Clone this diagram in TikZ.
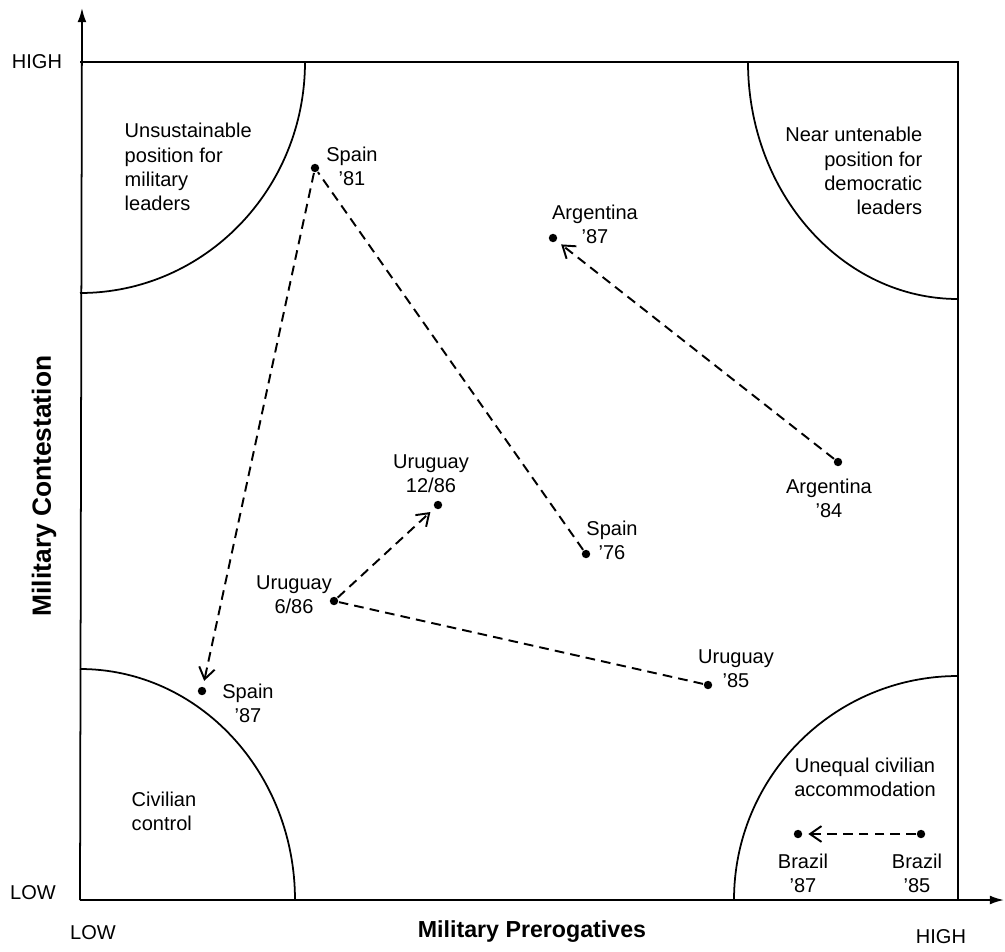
\documentclass[tikz,border=0pt]{standalone}
\usepackage{fontspec}
\setmainfont{Liberation Sans}
\usetikzlibrary{arrows.meta}
\begin{document}
\begin{tikzpicture}[x=0.02cm,y=-0.02cm,line width=1pt,pt/.style={shape=circle,fill=black,inner sep=0pt,minimum size=4.8pt},lab/.style={align=center,font=\fontsize{11.4}{13.8}\selectfont},zone/.style={lab,align=left},trend/.style={line width=1.1pt,dash pattern=on 5.5pt off 3.5pt},move/.style={trend,shorten >=3pt,-{Straight Barb[length=6.5pt,width=9pt,line width=1.1pt]}},axis/.style={-{Latex[length=8pt,width=5pt]}},axlab/.style={font=\fontsize{13.2}{15}\selectfont\bfseries},axlabY/.style={font=\fontsize{15}{17}\selectfont\bfseries,rotate=90}]
\def\xl{80};
\def\xr{958};
\def\yt{62};
\def\yb{900};

\useasboundingbox (0,0) rectangle (1005,951);

\coordinate (O) at (\xl,\yb);
\coordinate (ytip) at (82,8);
\coordinate (xtip) at (1004,\yb);
\draw[axis] (O) -- (ytip);
\draw[axis] (O) -- (xtip);
\draw (\xl,\yt) -- (\xr,\yt) -- (\xr,\yb);

\draw (305,\yt) arc[start angle=0,end angle=90,x radius=225,y radius=231];
\draw (748,\yt) arc[start angle=180,end angle=90,x radius=210,y radius=237];
\draw (\xl,669) arc[start angle=270,end angle=360,x radius=215,y radius=231];
\draw (734,\yb) arc[start angle=180,end angle=270,x radius=224,y radius=224];

\node[zone,anchor=west] (zUns) at (118,167) {Unsustainable\\position for\\military\\leaders};
\node[lab,align=right,anchor=east] (zNear) at (929,171) {Near untenable\\position for\\democratic\\leaders};
\node[zone,anchor=west] (zCiv) at (125,811) {Civilian\\control};
\node[lab] (zUneq) at (865,777) {Unequal civilian\\accommodation};

\node[lab] (hiY) at (37,62) {HIGH};
\node[lab] (loY) at (33,893) {LOW};
\node[lab] (loX) at (93,933) {LOW};
\node[lab] (hiX) at (941,937) {HIGH};
\node[axlab] (xlab) at (532,932) {Military Prerogatives};
\node[axlabY] (ylab) at (44,486) {Military Contestation};

\node[pt] (S76) at (586,554) {};
\node[pt] (S81) at (315,168) {};
\node[pt] (S87) at (202,691) {};
\node[lab] (lS76) at (612,540) {Spain\\'76};
\node[lab] (lS81) at (352,166) {Spain\\'81};
\node[lab] (lS87) at (248,703) {Spain\\'87};
\draw[trend] (S76) -- (S81);
\draw[move] (S81) -- (S87);

\node[pt] (U85) at (708,685) {};
\node[pt] (U686) at (334,601) {};
\node[pt] (U1286) at (438,505) {};
\node[lab] (lU85) at (736,669) {Uruguay\\'85};
\node[lab] (lU686) at (294,595) {Uruguay\\6/86};
\node[lab] (lU1286) at (431,474) {Uruguay\\12/86};
\draw[trend] (U85) -- (U686);
\draw[move] (U686) -- (U1286);

\node[pt] (A84) at (838,462) {};
\node[pt] (A87) at (553,238) {};
\node[lab] (lA84) at (829,498) {Argentina\\'84};
\node[lab] (lA87) at (595,224) {Argentina\\'87};
\draw[move] (A84) -- (A87);

\node[pt] (B85) at (921,834) {};
\node[pt] (B87) at (798,834) {};
\node[lab] (lB85) at (917,873) {Brazil\\'85};
\node[lab] (lB87) at (803,873) {Brazil\\'87};
\draw[move] (B85) -- (B87);
\end{tikzpicture}
\end{document}
